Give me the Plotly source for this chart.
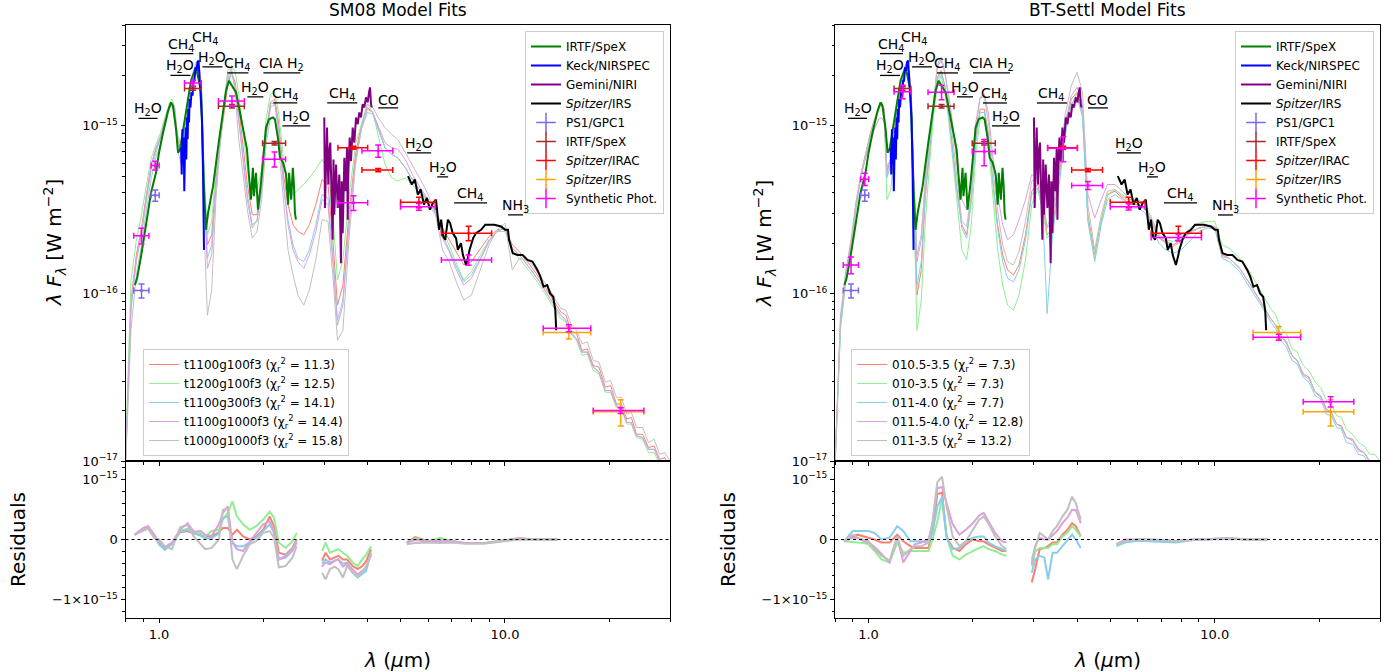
import numpy as np
import plotly.graph_objects as go

FONT = "DejaVu Sans"

# ---------------------------------------------------------------- model grid (micron)
model_wl = [0.80, 0.83, 0.86, 0.89, 0.92, 0.95, 0.98, 1.01, 1.04, 1.07,
            1.09, 1.11, 1.13, 1.16, 1.19, 1.22, 1.25, 1.28, 1.31, 1.33,
            1.35, 1.38, 1.42, 1.46, 1.50, 1.54, 1.58, 1.62, 1.66, 1.70,
            1.75, 1.80, 1.86, 1.92, 1.98, 2.04, 2.10, 2.16, 2.22, 2.29,
            2.36, 2.44, 2.52, 2.62, 2.72, 2.84, 2.96, 3.08, 3.18, 3.28,
            3.40, 3.55, 3.70, 3.85, 4.00, 4.15, 4.30, 4.50, 4.70, 4.90,
            5.15, 5.40, 5.70, 6.00, 6.30, 6.60, 6.90, 7.20, 7.60, 8.00,
            8.50, 9.00, 9.50, 10.0, 10.5, 11.0, 11.8, 12.6, 13.5, 14.5,
            15.0, 15.5, 16.1, 16.7, 17.3, 18.0, 18.7, 19.5, 20.2, 21.0,
            21.7, 22.5, 23.2, 24.0, 25.0, 26.0, 27.0, 28.0, 29.0, 30.0]

# SM08 model spectra, log10(lambda F_lambda / W m^-2)
sm08_t1100g100f3 = [
    -17.00, -16.04, -15.77, -15.61, -15.41, -15.23, -15.14, -15.07, -14.98, -14.89,
    -14.87, -14.92, -15.08, -15.14, -14.99, -14.83, -14.71, -14.64, -14.68, -14.84,
    -15.32, -15.71, -15.65, -15.32, -15.11, -14.92, -14.76, -14.68, -14.74, -14.89,
    -15.11, -15.35, -15.53, -15.53, -15.35, -15.04, -14.86, -14.84, -14.99, -15.29,
    -15.47, -15.59, -15.63, -15.65, -15.59, -15.47, -15.32, -15.35, -15.68, -16.07,
    -15.95, -15.50, -15.17, -14.99, -14.89, -14.92, -15.01, -15.13, -15.17, -15.19,
    -15.25, -15.32, -15.39, -15.45, -15.50, -15.61, -15.68, -15.75, -15.83, -15.81,
    -15.73, -15.66, -15.62, -15.61, -15.71, -15.75, -15.83, -15.91, -16.01, -16.11,
    -16.13, -16.22, -16.24, -16.34, -16.33, -16.43, -16.44, -16.56, -16.55, -16.66,
    -16.66, -16.75, -16.74, -16.84, -16.84, -16.92, -16.91, -16.99, -16.98, -17.04]
sm08_t1200g100f3 = [
    -16.96, -15.92, -15.68, -15.53, -15.35, -15.19, -15.11, -15.04, -14.95, -14.87,
    -14.84, -14.89, -15.05, -15.11, -14.98, -14.81, -14.70, -14.63, -14.67, -14.81,
    -15.26, -15.65, -15.57, -15.27, -15.08, -14.89, -14.73, -14.64, -14.68, -14.81,
    -15.02, -15.26, -15.41, -15.38, -15.26, -14.96, -14.81, -14.80, -14.93, -15.20,
    -15.35, -15.41, -15.38, -15.35, -15.31, -15.26, -15.20, -15.26, -15.53, -15.92,
    -15.80, -15.41, -15.11, -14.98, -14.87, -14.92, -15.05, -15.23, -15.31, -15.33,
    -15.31, -15.35, -15.41, -15.47, -15.51, -15.63, -15.71, -15.81, -15.92, -15.87,
    -15.77, -15.68, -15.63, -15.63, -15.74, -15.79, -15.87, -15.95, -16.05, -16.15,
    -16.17, -16.24, -16.28, -16.37, -16.36, -16.46, -16.48, -16.59, -16.59, -16.68,
    -16.69, -16.78, -16.78, -16.86, -16.87, -16.95, -16.95, -17.02, -17.02, -17.06]
sm08_t1100g300f3 = [
    -17.02, -16.10, -15.81, -15.65, -15.44, -15.26, -15.16, -15.08, -14.99, -14.90,
    -14.88, -14.93, -15.10, -15.16, -15.01, -14.84, -14.73, -14.65, -14.69, -14.87,
    -15.38, -15.79, -15.71, -15.35, -15.11, -14.89, -14.73, -14.68, -14.77, -14.95,
    -15.17, -15.41, -15.59, -15.57, -15.39, -15.07, -14.89, -14.87, -15.04, -15.35,
    -15.56, -15.71, -15.79, -15.81, -15.74, -15.59, -15.41, -15.43, -15.77, -16.16,
    -16.04, -15.56, -15.21, -15.02, -14.92, -14.93, -15.02, -15.13, -15.17, -15.19,
    -15.25, -15.32, -15.39, -15.47, -15.53, -15.65, -15.74, -15.83, -15.93, -15.89,
    -15.79, -15.68, -15.63, -15.61, -15.73, -15.77, -15.85, -15.93, -16.03, -16.13,
    -16.16, -16.23, -16.27, -16.35, -16.35, -16.44, -16.47, -16.58, -16.58, -16.67,
    -16.68, -16.77, -16.77, -16.85, -16.86, -16.93, -16.93, -17.00, -17.00, -17.05]
sm08_t1100g1000f3 = [
    -17.02, -16.07, -15.79, -15.63, -15.41, -15.23, -15.13, -15.06, -14.96, -14.88,
    -14.86, -14.89, -15.07, -15.11, -14.96, -14.80, -14.69, -14.62, -14.65, -14.84,
    -15.38, -15.85, -15.77, -15.37, -15.10, -14.87, -14.70, -14.67, -14.77, -14.96,
    -15.20, -15.44, -15.61, -15.56, -15.38, -15.04, -14.87, -14.86, -15.02, -15.35,
    -15.59, -15.74, -15.81, -15.85, -15.77, -15.63, -15.44, -15.47, -15.81, -16.19,
    -16.07, -15.57, -15.20, -15.01, -14.90, -14.92, -15.00, -15.10, -15.13, -15.14,
    -15.20, -15.29, -15.37, -15.44, -15.51, -15.67, -15.75, -15.85, -15.95, -15.91,
    -15.80, -15.69, -15.63, -15.61, -15.73, -15.77, -15.85, -15.93, -16.03, -16.13,
    -16.16, -16.24, -16.27, -16.35, -16.35, -16.44, -16.47, -16.58, -16.58, -16.67,
    -16.68, -16.77, -16.77, -16.85, -16.86, -16.93, -16.93, -17.00, -17.00, -17.05]
sm08_t1000g1000f3 = [
    -17.05, -16.22, -15.89, -15.71, -15.50, -15.31, -15.19, -15.11, -15.01, -14.90,
    -14.87, -14.93, -15.14, -15.23, -15.05, -14.86, -14.73, -14.64, -14.70, -14.93,
    -15.62, -16.13, -15.98, -15.44, -15.14, -14.87, -14.67, -14.65, -14.81, -15.08,
    -15.29, -15.50, -15.67, -15.63, -15.44, -15.11, -14.95, -14.96, -15.14, -15.47,
    -15.74, -15.89, -16.01, -16.07, -15.98, -15.80, -15.56, -15.57, -15.89, -16.28,
    -16.22, -15.65, -15.23, -15.01, -14.87, -14.89, -14.95, -15.01, -15.05, -15.08,
    -15.16, -15.23, -15.32, -15.41, -15.53, -15.74, -15.81, -15.92, -16.04, -16.01,
    -15.85, -15.71, -15.62, -15.58, -15.86, -15.79, -15.81, -15.89, -15.98, -16.09,
    -16.10, -16.18, -16.22, -16.30, -16.29, -16.40, -16.41, -16.53, -16.52, -16.62,
    -16.62, -16.72, -16.71, -16.80, -16.80, -16.89, -16.87, -16.96, -16.95, -17.00]

# BT-Settl model spectra, log10(lambda F_lambda / W m^-2)
bts_010p5_3p5 = [
    -17.02, -16.16, -15.89, -15.71, -15.47, -15.29, -15.17, -15.05, -14.96, -14.89,
    -14.86, -14.90, -15.27, -15.20, -15.02, -14.84, -14.71, -14.64, -14.68, -14.84,
    -15.35, -16.01, -15.86, -15.41, -15.16, -14.90, -14.71, -14.67, -14.76, -14.90,
    -15.14, -15.38, -15.59, -15.65, -15.44, -15.08, -14.90, -14.90, -15.05, -15.35,
    -15.59, -15.77, -15.86, -15.89, -15.83, -15.65, -15.39, -15.35, -15.47, -15.65,
    -15.61, -15.32, -15.02, -14.84, -14.80, -14.92, -15.53, -15.77, -15.56, -15.41,
    -15.39, -15.43, -15.47, -15.47, -15.50, -15.59, -15.67, -15.69, -15.71, -15.68,
    -15.63, -15.61, -15.60, -15.60, -15.77, -15.79, -15.85, -15.94, -16.04, -16.15,
    -16.19, -16.25, -16.29, -16.37, -16.40, -16.48, -16.50, -16.59, -16.61, -16.69,
    -16.71, -16.78, -16.79, -16.86, -16.87, -16.93, -16.95, -17.00, -17.00, -17.05]
bts_010_3p5 = [
    -17.05, -16.22, -15.92, -15.74, -15.50, -15.31, -15.19, -15.07, -14.98, -14.90,
    -14.87, -14.95, -15.44, -15.38, -15.08, -14.87, -14.74, -14.67, -14.70, -14.87,
    -15.44, -16.22, -16.04, -15.56, -15.23, -14.95, -14.76, -14.70, -14.80, -14.95,
    -15.20, -15.47, -15.74, -15.80, -15.59, -15.17, -14.96, -14.95, -15.11, -15.44,
    -15.74, -15.95, -16.07, -16.10, -16.01, -15.80, -15.47, -15.38, -15.50, -15.67,
    -15.63, -15.35, -15.05, -14.87, -14.81, -14.93, -15.56, -15.79, -15.57, -15.41,
    -15.38, -15.41, -15.44, -15.44, -15.47, -15.56, -15.65, -15.68, -15.69, -15.66,
    -15.61, -15.58, -15.57, -15.57, -15.71, -15.73, -15.79, -15.87, -15.98, -16.09,
    -16.13, -16.21, -16.24, -16.33, -16.35, -16.43, -16.46, -16.53, -16.56, -16.64,
    -16.66, -16.73, -16.74, -16.81, -16.84, -16.89, -16.91, -16.96, -16.96, -17.00]
bts_011_4p0 = [
    -17.04, -16.19, -15.91, -15.73, -15.49, -15.30, -15.18, -15.06, -14.97, -14.90,
    -14.87, -14.92, -15.31, -15.23, -15.04, -14.85, -14.72, -14.65, -14.68, -14.86,
    -15.37, -15.95, -15.81, -15.39, -15.14, -14.90, -14.73, -14.68, -14.76, -14.92,
    -15.16, -15.39, -15.61, -15.67, -15.45, -15.10, -14.92, -14.92, -15.07, -15.37,
    -15.62, -15.81, -15.91, -15.93, -15.86, -15.68, -15.41, -15.37, -15.50, -16.12,
    -15.65, -15.35, -15.05, -14.87, -14.83, -14.95, -15.57, -15.81, -15.59, -15.44,
    -15.41, -15.44, -15.49, -15.49, -15.52, -15.62, -15.70, -15.74, -15.76, -15.74,
    -15.68, -15.63, -15.61, -15.61, -15.79, -15.81, -15.87, -15.96, -16.06, -16.17,
    -16.21, -16.28, -16.32, -16.40, -16.42, -16.50, -16.53, -16.61, -16.63, -16.72,
    -16.73, -16.80, -16.81, -16.89, -16.90, -16.96, -16.97, -17.03, -17.03, -17.06]
bts_011p5_4p0 = [
    -17.00, -16.13, -15.86, -15.68, -15.45, -15.30, -15.19, -15.10, -15.02, -14.96,
    -14.95, -14.98, -15.25, -15.19, -15.01, -14.83, -14.70, -14.63, -14.67, -14.83,
    -15.29, -15.81, -15.68, -15.32, -15.08, -14.84, -14.65, -14.61, -14.68, -14.80,
    -14.99, -15.23, -15.44, -15.50, -15.32, -14.98, -14.83, -14.81, -14.93, -15.20,
    -15.41, -15.59, -15.68, -15.65, -15.56, -15.44, -15.29, -15.32, -15.44, -15.61,
    -15.57, -15.27, -14.98, -14.82, -14.77, -14.87, -15.41, -15.55, -15.44, -15.35,
    -15.35, -15.39, -15.44, -15.45, -15.49, -15.57, -15.66, -15.69, -15.71, -15.68,
    -15.63, -15.61, -15.60, -15.60, -15.77, -15.79, -15.85, -15.94, -16.04, -16.15,
    -16.19, -16.25, -16.29, -16.37, -16.40, -16.48, -16.50, -16.59, -16.61, -16.69,
    -16.71, -16.78, -16.79, -16.86, -16.87, -16.93, -16.95, -17.00, -17.00, -17.05]
bts_011_3p5 = [
    -17.03, -16.17, -15.90, -15.72, -15.48, -15.29, -15.17, -15.06, -14.97, -14.89,
    -14.87, -14.92, -15.29, -15.21, -15.02, -14.84, -14.71, -14.64, -14.67, -14.83,
    -15.29, -15.77, -15.65, -15.31, -15.08, -14.84, -14.64, -14.59, -14.67, -14.84,
    -15.08, -15.33, -15.57, -15.60, -15.41, -15.04, -14.83, -14.83, -14.98, -15.27,
    -15.51, -15.71, -15.81, -15.83, -15.75, -15.57, -15.33, -15.31, -15.43, -15.60,
    -15.53, -15.23, -14.93, -14.76, -14.68, -14.80, -15.47, -15.74, -15.53, -15.39,
    -15.38, -15.42, -15.45, -15.46, -15.50, -15.59, -15.67, -15.70, -15.72, -15.69,
    -15.64, -15.61, -15.60, -15.60, -15.78, -15.79, -15.85, -15.94, -16.04, -16.15,
    -16.19, -16.25, -16.30, -16.37, -16.40, -16.49, -16.51, -16.59, -16.62, -16.70,
    -16.71, -16.78, -16.80, -16.86, -16.88, -16.94, -16.95, -17.01, -17.01, -17.06]

sm08_names = ["t1100g100f3", "t1200g100f3", "t1100g300f3", "t1100g1000f3", "t1000g1000f3"]
sm08_chi2 = [11.3, 12.5, 14.1, 14.4, 15.8]
bts_names = ["010.5-3.5", "010-3.5", "011-4.0", "011.5-4.0", "011-3.5"]
bts_chi2 = [7.3, 7.3, 7.7, 12.8, 13.2]
model_colors = ["#FA8072", "#90EE90", "#87CEEB", "#DDA0DD", "#C0C0C0"]

# ---------------------------------------------------------------- observed spectra
spex_wl = [0.852, 0.864, 0.887, 0.917, 0.948, 0.980, 1.000, 1.027, 1.062, 1.083,
           1.097, 1.120, 1.135, 1.150, 1.197, 1.237, 1.279, 1.322, 1.349, 1.367,
           1.386, 1.433, 1.481, 1.531, 1.562, 1.593, 1.636, 1.669, 1.703, 1.749,
           1.796, 1.820, 1.843, 1.868, 1.880, 1.906, 1.932, 1.971, 1.997, 2.038,
           2.079, 2.135, 2.163, 2.207, 2.237, 2.283, 2.329, 2.361, 2.377, 2.410,
           2.437, 2.456, 2.471, 2.488]
spex_logf = [-15.95, -15.91, -15.78, -15.59, -15.40, -15.28, -15.16, -15.04, -14.91, -14.86,
             -14.88, -15.02, -15.16, -15.14, -14.91, -14.73, -14.65, -14.79, -15.38, -15.62,
             -15.52, -15.36, -15.13, -14.92, -14.79, -14.73, -14.77, -14.80, -14.89, -15.01,
             -15.14, -15.30, -15.44, -15.25, -15.42, -15.28, -15.50, -15.34, -15.20, -15.01,
             -14.96, -14.95, -14.96, -15.07, -15.19, -15.22, -15.29, -15.47, -15.28, -15.44,
             -15.25, -15.36, -15.52, -15.56]

nirspec_wl = [1.158, 1.163, 1.168, 1.173, 1.179, 1.183, 1.189, 1.195, 1.199, 1.205,
              1.210, 1.215, 1.221, 1.226, 1.233, 1.241, 1.250, 1.258, 1.266, 1.275,
              1.284, 1.292, 1.301, 1.308, 1.314, 1.322, 1.331, 1.340, 1.345, 1.349]
nirspec_logf = [-15.13, -15.29, -15.02, -15.23, -15.07, -15.39, -15.14, -15.01, -15.20, -14.95,
                -15.08, -14.90, -14.98, -14.84, -14.89, -14.80, -14.82, -14.73, -14.73, -14.65,
                -14.67, -14.62, -14.61, -14.68, -14.73, -14.84, -14.96, -15.26, -15.56, -15.74]

niri_wl = [3.004, 3.018, 3.059, 3.086, 3.110, 3.127, 3.156, 3.177, 3.194, 3.211,
           3.248, 3.285, 3.320, 3.342, 3.357, 3.373, 3.396, 3.414, 3.433, 3.465,
           3.495, 3.511, 3.525, 3.558, 3.589, 3.630, 3.669, 3.711, 3.753, 3.793,
           3.836, 3.879, 3.921, 3.966, 4.011, 4.046, 4.073, 4.101, 4.120]
niri_logf = [-14.95, -15.49, -15.01, -15.35, -15.14, -15.10, -15.45, -15.68, -15.20, -15.53,
             -15.23, -15.49, -15.29, -15.55, -15.82, -15.33, -15.64, -15.44, -15.19, -15.39,
             -15.13, -15.56, -15.29, -15.07, -15.21, -15.01, -15.10, -14.95, -14.99, -14.92,
             -14.95, -14.87, -14.89, -14.83, -14.86, -14.80, -14.77, -14.87, -14.89]

irs_wl = [5.245, 5.38, 5.49, 5.60, 5.71, 5.83, 5.95, 6.07, 6.19, 6.32,
          6.45, 6.54, 6.63, 6.72, 6.84, 6.94, 7.06, 7.22, 7.31, 7.46,
          7.56, 7.72, 7.83, 7.90, 8.09, 8.25, 8.53, 8.77, 8.94, 9.31,
          9.75, 10.0, 10.2, 10.28, 10.53, 10.87, 11.24, 11.62, 12.01, 12.41,
          12.66, 12.93, 13.25, 13.51, 13.79, 13.98, 14.07]
irs_logf = [-15.30, -15.35, -15.32, -15.41, -15.38, -15.47, -15.43, -15.50, -15.46, -15.44,
            -15.62, -15.56, -15.66, -15.68, -15.56, -15.58, -15.64, -15.67, -15.74, -15.70,
            -15.77, -15.83, -15.78, -15.74, -15.67, -15.64, -15.62, -15.59, -15.59, -15.59,
            -15.60, -15.62, -15.62, -15.68, -15.76, -15.77, -15.77, -15.80, -15.81, -15.86,
            -15.90, -15.96, -15.95, -16.00, -16.02, -16.10, -16.22]

# ---------------------------------------------------------------- photometry (W m^-2)
ps1_wl = [0.89, 0.975]
ps1_xerr = [0.045, 0.026]
ps1_f = [1.04e-16, 3.85e-16]
ps1_ferr = [0.10e-16, 0.30e-16]

spexphot_wl = [1.255, 1.625, 2.157]
spexphot_xerr = [0.07, 0.14, 0.165]
spexphot_f = [1.67e-15, 1.31e-15, 7.88e-16]
spexphot_ferr = [0.04e-15, 0.03e-15, 0.20e-16]

irac_wl = [3.65, 4.30, 5.64, 7.85]
irac_xerr = [0.36, 0.44, 0.65, 1.30]
irac_f = [7.40e-16, 5.45e-16, 3.50e-16, 2.29e-16]
irac_ferr = [0.15e-16, 0.12e-16, 0.25e-16, 0.23e-16]

irsphot_wl = [15.3, 21.6]
irsphot_xerr = [2.4, 3.6]
irsphot_f = [5.85e-17, 1.97e-17]
irsphot_ferr = [0.50e-17, 0.35e-17]

synth_wl = [0.89, 0.975, 1.255, 1.625, 2.157, 3.65, 4.30, 5.64, 7.85, 15.3, 21.6]
synth_xerr = [0.045, 0.026, 0.07, 0.14, 0.165, 0.36, 0.44, 0.65, 1.30, 2.4, 3.6]
synth_sm08_f = [2.21e-16, 5.80e-16, 1.80e-15, 1.41e-15, 6.33e-16, 3.48e-16,
                7.10e-16, 3.29e-16, 1.585e-16, 6.2e-17, 2.0e-17]
synth_sm08_ferr = [0.24e-16, 0.35e-16, 0.07e-15, 0.10e-15, 0.65e-16, 0.35e-16,
                   0.60e-16, 0.15e-16, 0.11e-16, 0.30e-17, 0.08e-17]
synth_bts_f = [1.48e-16, 4.81e-16, 1.60e-15, 1.59e-15, 7.03e-16, 7.36e-16,
               4.41e-16, 3.29e-16, 2.16e-16, 5.48e-17, 2.26e-17]
synth_bts_ferr = [0.17e-16, 0.40e-16, 0.15e-15, 0.16e-15, 1.25e-16, 1.25e-16,
                  0.24e-16, 0.14e-16, 0.09e-16, 0.22e-17, 0.16e-17]

# ---------------------------------------------------------------- residuals (1e-15 W m^-2)
res_wl = [0.85, 0.90, 0.93, 0.97, 1.00, 1.04, 1.09, 1.15, 1.21, 1.26,
          1.32, 1.36, 1.42, 1.49, 1.53, 1.58, 1.63, 1.68, 1.75, 1.83,
          1.91, 2.00, 2.09, 2.15, 2.22, 2.32, 2.43, 2.50, None,
          2.96, 3.03, 3.12, 3.22, 3.30, 3.40, 3.50, 3.63, 3.75, 3.87,
          3.97, 4.10, None,
          5.2, 5.5, 6.0, 6.5, 7.0, 7.7, 8.7, 9.8, 11.0, 12.4, 14.2]

res_sm08_t1100g100f3 = [
    0.08, 0.17, 0.20, 0.06, -0.05, -0.14, -0.07, 0.12, 0.14, 0.10,
    0.08, 0.04, 0.05, 0.12, 0.19, 0.19, 0.08, 0.16, 0.05, 0.00,
    0.05, 0.16, 0.38, 0.22, -0.22, -0.25, -0.14, 0.00, None,
    -0.35, -0.22, -0.33, -0.30, -0.27, -0.33, -0.33, -0.44, -0.49, -0.44,
    -0.36, -0.16, None,
    -0.05, 0.04, -0.03, -0.02, -0.03, -0.06, -0.06, -0.02, 0.02, 0.00, 0.00]
res_sm08_t1200g100f3 = [
    0.08, 0.19, 0.22, 0.08, -0.08, -0.16, -0.08, 0.14, 0.18, 0.12,
    0.10, 0.05, 0.14, 0.16, 0.33, 0.44, 0.63, 0.38, 0.25, 0.16,
    0.22, 0.33, 0.46, 0.36, -0.05, -0.14, -0.03, 0.11, None,
    -0.19, -0.05, -0.22, -0.19, -0.16, -0.22, -0.27, -0.38, -0.44, -0.33,
    -0.25, -0.11, None,
    -0.05, 0.02, -0.03, 0.03, -0.03, -0.06, -0.06, -0.02, 0.01, 0.00, 0.00]
res_sm08_t1100g300f3 = [
    0.08, 0.16, 0.20, 0.05, -0.08, -0.17, -0.06, 0.13, 0.16, 0.10,
    0.06, 0.02, 0.02, 0.10, 0.36, 0.38, -0.05, -0.11, -0.11, -0.05,
    0.03, 0.14, 0.25, 0.11, -0.33, -0.27, -0.16, -0.03, None,
    -0.40, -0.33, -0.38, -0.35, -0.33, -0.40, -0.38, -0.55, -0.63, -0.57,
    -0.52, -0.22, None,
    -0.05, 0.00, -0.03, -0.03, -0.03, -0.06, -0.06, -0.02, 0.01, 0.00, 0.00]
res_sm08_t1100g1000f3 = [
    0.08, 0.19, 0.22, 0.08, -0.04, -0.12, -0.05, 0.16, 0.27, 0.13,
    0.14, 0.08, 0.06, 0.25, 0.44, 0.55, -0.05, -0.16, -0.19, -0.03,
    0.11, 0.25, 0.30, 0.14, -0.33, -0.30, -0.19, -0.05, None,
    -0.45, -0.38, -0.41, -0.35, -0.33, -0.45, -0.40, -0.49, -0.58, -0.52,
    -0.46, -0.25, None,
    -0.05, -0.01, -0.03, -0.02, -0.03, -0.06, -0.06, -0.02, 0.01, 0.00, 0.00]
res_sm08_t1000g1000f3 = [
    0.08, 0.14, 0.18, 0.02, 0.00, -0.11, -0.16, 0.20, 0.24, 0.05,
    -0.08, -0.16, -0.14, 0.00, 0.49, 0.52, -0.33, -0.49, -0.27, -0.08,
    -0.03, 0.11, 0.14, 0.03, -0.46, -0.44, -0.30, -0.11, None,
    -0.55, -0.66, -0.49, -0.45, -0.49, -0.63, -0.44, -0.55, -0.60, -0.55,
    -0.44, -0.27, None,
    -0.08, -0.06, -0.05, -0.06, -0.05, -0.07, -0.07, -0.03, 0.00, 0.00, 0.00]

res_bts_010p5_3p5 = [
    -0.03, 0.05, 0.08, 0.05, 0.03, 0.00, -0.05, -0.05, 0.08, -0.03,
    -0.11, -0.14, -0.14, -0.14, 0.16, 0.75, 0.78, 0.05, -0.14, -0.19,
    -0.08, 0.00, -0.03, -0.03, -0.08, -0.14, -0.19, -0.19, None,
    -0.71, -0.49, -0.16, -0.14, -0.11, -0.05, -0.05, 0.08, 0.16, 0.27,
    0.22, 0.05, None,
    -0.08, -0.03, 0.00, 0.00, -0.01, -0.03, 0.00, 0.01, 0.02, 0.00, 0.00]
res_bts_010_3p5 = [
    -0.03, -0.05, -0.05, -0.06, -0.08, -0.19, -0.33, -0.38, -0.05, -0.22,
    -0.19, -0.19, -0.19, -0.19, 0.00, 0.30, 0.68, 0.05, -0.27, -0.33,
    -0.25, -0.19, -0.14, -0.11, -0.16, -0.19, -0.25, -0.27, None,
    -0.44, -0.20, -0.14, -0.14, -0.14, -0.08, -0.08, 0.05, 0.11, 0.22,
    0.16, 0.05, None,
    -0.08, -0.03, 0.00, 0.00, -0.01, -0.03, 0.00, 0.01, 0.02, 0.00, 0.00]
res_bts_011_4p0 = [
    -0.03, 0.14, 0.14, 0.14, 0.14, 0.11, 0.00, 0.03, 0.22, 0.14,
    -0.03, -0.03, -0.03, -0.05, 0.11, 0.55, 0.70, 0.02, -0.16, -0.14,
    -0.03, 0.03, 0.05, 0.05, -0.05, -0.11, -0.16, -0.19, None,
    -0.55, -0.33, -0.27, -0.30, -0.66, -0.22, -0.22, -0.11, -0.03, 0.08,
    0.00, -0.14, None,
    -0.11, -0.05, -0.02, -0.03, -0.03, -0.05, -0.01, 0.00, 0.01, 0.00, 0.00]
res_bts_011p5_4p0 = [
    -0.03, 0.03, 0.02, -0.03, -0.05, -0.12, -0.24, -0.38, 0.05, -0.38,
    -0.19, -0.08, -0.05, 0.00, 0.25, 0.85, 0.87, 0.60, 0.25, 0.08,
    0.16, 0.27, 0.40, 0.44, 0.30, 0.11, -0.03, -0.05, None,
    -0.40, -0.10, 0.03, 0.00, 0.00, 0.08, 0.14, 0.27, 0.36, 0.49,
    0.49, 0.27, None,
    -0.08, 0.00, 0.00, 0.00, -0.01, -0.03, 0.00, 0.01, 0.02, 0.00, 0.00]
res_bts_011_3p5 = [
    -0.03, 0.08, 0.03, -0.01, -0.03, -0.16, -0.27, -0.35, 0.05, -0.27,
    -0.16, -0.11, -0.11, -0.05, 0.30, 0.95, 1.04, 0.55, 0.05, -0.11,
    -0.03, 0.16, 0.33, 0.38, 0.27, 0.05, -0.11, -0.16, None,
    -0.33, -0.14, 0.11, 0.05, 0.00, 0.14, 0.22, 0.38, 0.49, 0.71,
    0.60, 0.33, None,
    -0.08, -0.03, 0.00, 0.00, -0.01, -0.03, 0.00, 0.01, 0.02, 0.00, 0.00]

# ---------------------------------------------------------------- absorption band labels
band_text = ["H<sub>2</sub>O", "H<sub>2</sub>O", "CH<sub>4</sub>", "CH<sub>4</sub>",
             "H<sub>2</sub>O", "CH<sub>4</sub>", "CIA H<sub>2</sub>", "H<sub>2</sub>O",
             "CH<sub>4</sub>", "H<sub>2</sub>O", "CH<sub>4</sub>", "CO",
             "H<sub>2</sub>O", "H<sub>2</sub>O", "CH<sub>4</sub>", "NH<sub>3</sub>"]
band_lo = [0.872, 1.079, 1.079, 1.36, 1.335, 1.576, 2.003, 1.80,
           2.14, 2.273, 3.064, 4.303, 5.217, 6.37, 7.13, 10.21]
band_hi = [0.99, 1.233, 1.257, 1.36, 1.525, 1.813, 2.561, 2.003,
           2.51, 2.737, 3.741, 4.913, 6.118, 6.85, 8.88, 11.28]
band_y = [1.11e-15, 2.0e-15, 2.7e-15, 2.96e-15, 2.25e-15, 2.07e-15, 2.07e-15, 1.49e-15,
          1.37e-15, 1.0e-15, 1.37e-15, 1.28e-15, 6.9e-16, 4.96e-16, 3.47e-16, 2.94e-16]

# ---------------------------------------------------------------- figure
W, H = 1400, 672
X_DOMS = [[125.5 / W, 670 / W], [835 / W, 1380 / W]]
MAIN_DOM = [1 - 461 / H, 1 - 25 / H]
RES_DOM = [1 - 618 / H, 1 - 461 / H]
X_RANGE = [np.log10(0.8), np.log10(30.0)]

fig = go.Figure()

panels = [
    dict(xa="x", ya="y", xr="x3", yr="y3", leg_obs="legend", leg_mod="legend2",
         title="SM08 Model Fits", names=sm08_names, chi2=sm08_chi2,
         models=[sm08_t1100g100f3, sm08_t1200g100f3, sm08_t1100g300f3,
                 sm08_t1100g1000f3, sm08_t1000g1000f3],
         resid=[res_sm08_t1100g100f3, res_sm08_t1200g100f3, res_sm08_t1100g300f3,
                res_sm08_t1100g1000f3, res_sm08_t1000g1000f3],
         synth=synth_sm08_f, synth_err=synth_sm08_ferr),
    dict(xa="x2", ya="y2", xr="x4", yr="y4", leg_obs="legend3", leg_mod="legend4",
         title="BT-Settl Model Fits", names=bts_names, chi2=bts_chi2,
         models=[bts_010p5_3p5, bts_010_3p5, bts_011_4p0, bts_011p5_4p0, bts_011_3p5],
         resid=[res_bts_010p5_3p5, res_bts_010_3p5, res_bts_011_4p0,
                res_bts_011p5_4p0, res_bts_011_3p5],
         synth=synth_bts_f, synth_err=synth_bts_ferr),
]

obs_spectra = [
    ("IRTF/SpeX", spex_wl, spex_logf, "#008000"),
    ("Keck/NIRSPEC", nirspec_wl, nirspec_logf, "#0000FF"),
    ("Gemini/NIRI", niri_wl, niri_logf, "#800080"),
    ("<i>Spitzer</i>/IRS", irs_wl, irs_logf, "#000000"),
]

for p in panels:
    # model spectra
    for name, chi, arr, col in zip(p["names"], p["chi2"], p["models"], model_colors):
        fig.add_trace(go.Scatter(
            x=model_wl, y=10 ** np.array(arr), mode="lines",
            line=dict(color=col, width=1),
            name=f"{name} (χ<sub>r</sub><sup>2</sup> = {chi})",
            legend=p["leg_mod"], xaxis=p["xa"], yaxis=p["ya"], hoverinfo="skip"))

    # observed spectra
    for name, wl, lf, col in obs_spectra:
        fig.add_trace(go.Scatter(
            x=wl, y=10 ** np.array(lf), mode="lines",
            line=dict(color=col, width=2),
            name=name, legend=p["leg_obs"], xaxis=p["xa"], yaxis=p["ya"],
            hoverinfo="skip"))

    # photometry
    phot = [
        ("PS1/GPC1", ps1_wl, ps1_xerr, ps1_f, ps1_ferr, "#7B68EE"),
        ("IRTF/SpeX", spexphot_wl, spexphot_xerr, spexphot_f, spexphot_ferr, "#A52A2A"),
        ("<i>Spitzer</i>/IRAC", irac_wl, irac_xerr, irac_f, irac_ferr, "#FF0000"),
        ("<i>Spitzer</i>/IRS", irsphot_wl, irsphot_xerr, irsphot_f, irsphot_ferr, "#FFA500"),
        ("Synthetic Phot.", synth_wl, synth_xerr, p["synth"], p["synth_err"], "#FF00FF"),
    ]
    for name, wl, xe, f, fe, col in phot:
        fig.add_trace(go.Scatter(
            x=wl, y=f, mode="markers",
            marker=dict(color=col, size=3),
            error_x=dict(type="data", array=xe, color=col, thickness=1.5, width=3),
            error_y=dict(type="data", array=fe, color=col, thickness=1.5, width=3),
            showlegend=False, xaxis=p["xa"], yaxis=p["ya"], hoverinfo="skip"))
    for name, wl, xe, f, fe, col in phot:
        fig.add_trace(go.Scatter(
            x=[None], y=[None], mode="markers", name=name,
            marker=dict(symbol="cross-thin", size=14, color=col,
                        line=dict(width=1.5, color=col)),
            legend=p["leg_obs"], xaxis=p["xa"], yaxis=p["ya"]))

    # band underlines
    bx, by = [], []
    for lo, hi, yv in zip(band_lo, band_hi, band_y):
        if hi > lo:
            bx += [lo, hi, None]
            by += [yv, yv, None]
    fig.add_trace(go.Scatter(x=bx, y=by, mode="lines", line=dict(color="black", width=1.3),
                             showlegend=False, xaxis=p["xa"], yaxis=p["ya"], hoverinfo="skip"))
    for txt, lo, hi, yv in zip(band_text, band_lo, band_hi, band_y):
        fig.add_annotation(x=0.5 * (np.log10(lo) + np.log10(hi)), y=np.log10(yv),
                           xref=p["xa"], yref=p["ya"], text=txt, showarrow=False,
                           xanchor="center", yanchor="bottom", yshift=-2,
                           font=dict(family=FONT, size=14, color="black"))

    # residuals
    for arr, col in zip(p["resid"], model_colors):
        fig.add_trace(go.Scatter(
            x=res_wl, y=[None if v is None else v * 1e-15 for v in arr], mode="lines",
            line=dict(color=col, width=2), showlegend=False,
            xaxis=p["xr"], yaxis=p["yr"], hoverinfo="skip"))
    fig.add_shape(type="line", xref=f"{p['xr']} domain", yref=p["yr"],
                  x0=0, x1=1, y0=0, y1=0, line=dict(color="black", width=1, dash="dot"))

# ---------------------------------------------------------------- axes
x_minor = [0.8, 0.9, 2, 3, 4, 5, 6, 7, 8, 9, 20, 30]
y_minor = [m * 10.0 ** e for e in (-17, -16) for m in range(2, 10)] + [2e-15, 3e-15, 4e-15]

common = dict(showline=True, mirror=True, linecolor="black", linewidth=1,
              ticks="outside", ticklen=4, tickwidth=1, tickcolor="black",
              showgrid=False, zeroline=False, automargin=False,
              tickfont=dict(family=FONT, size=13, color="black"))

layout_axes = {}
for i, dom in enumerate(X_DOMS):
    xm = "xaxis" if i == 0 else "xaxis2"
    ym = "yaxis" if i == 0 else "yaxis2"
    xr = "xaxis3" if i == 0 else "xaxis4"
    yr = "yaxis3" if i == 0 else "yaxis4"
    ya_m = "y" if i == 0 else "y2"
    ya_r = "y3" if i == 0 else "y4"
    xa_m = "x" if i == 0 else "x2"
    xa_r = "x3" if i == 0 else "x4"
    layout_axes[xm] = dict(common, type="log", range=X_RANGE, domain=dom, anchor=ya_m,
                           tickvals=[1, 10], showticklabels=False,
                           minor=dict(tickvals=x_minor, ticks="outside", ticklen=2.5,
                                      tickcolor="black"))
    layout_axes[ym] = dict(common, type="log", range=[-17, np.log10(4e-15)],
                           domain=MAIN_DOM, anchor=xa_m,
                           tickvals=[1e-17, 1e-16, 1e-15],
                           ticktext=["10<sup>−17</sup>", "10<sup>−16</sup>", "10<sup>−15</sup>"],
                           minor=dict(tickvals=y_minor, ticks="outside", ticklen=2.5,
                                      tickcolor="black"))
    layout_axes[xr] = dict(common, type="log", range=X_RANGE, domain=dom, anchor=ya_r,
                           tickvals=[1, 10], ticktext=["1.0", "10.0"],
                           minor=dict(tickvals=x_minor, ticks="outside", ticklen=2.5,
                                      tickcolor="black"))
    layout_axes[yr] = dict(common, range=[-1.3e-15, 1.3e-15], domain=RES_DOM, anchor=xa_r,
                           tickvals=[-1e-15, 0, 1e-15],
                           ticktext=["−1×10<sup>−15</sup>", "0", "10<sup>−15</sup>"],
                           minor=dict(tickvals=[-1.2e-15, -0.8e-15, -0.6e-15, -0.4e-15,
                                                -0.2e-15, 0.2e-15, 0.4e-15, 0.6e-15,
                                                0.8e-15, 1.2e-15],
                                      ticks="outside", ticklen=2.5, tickcolor="black"))

legend_style = dict(bgcolor="rgba(255,255,255,0.85)", bordercolor="#cccccc", borderwidth=1,
                    font=dict(family=FONT, size=12, color="black"), tracegroupgap=0)

fig.update_layout(
    width=W, height=H, autosize=False, margin=dict(l=0, r=0, t=0, b=0, pad=0, autoexpand=False),
    paper_bgcolor="white", plot_bgcolor="white",
    font=dict(family=FONT, color="black"),
    legend=dict(legend_style, x=664 / W, xanchor="right", y=1 - 31 / H, yanchor="top"),
    legend2=dict(legend_style, x=143 / W, xanchor="left", y=1 - 456 / H, yanchor="bottom"),
    legend3=dict(legend_style, x=1374 / W, xanchor="right", y=1 - 31 / H, yanchor="top"),
    legend4=dict(legend_style, x=851 / W, xanchor="left", y=1 - 456 / H, yanchor="bottom"),
    **layout_axes,
)

# titles and axis labels
for i, p in enumerate(panels):
    dom = X_DOMS[i]
    xc = 0.5 * (dom[0] + dom[1])
    fig.add_annotation(x=xc, y=MAIN_DOM[1], xref="paper", yref="paper", text=p["title"],
                       showarrow=False, xanchor="center", yanchor="bottom", yshift=3,
                       font=dict(family=FONT, size=17, color="black"))
    fig.add_annotation(x=xc, y=1 - 660 / H, xref="paper", yref="paper",
                       text="<i>λ</i> (<i>μ</i>m)", showarrow=False,
                       xanchor="center", yanchor="middle",
                       font=dict(family=FONT, size=20, color="black"))
    x_off = 0 if i == 0 else 710
    fig.add_annotation(x=(55 + x_off) / W, y=1 - 243 / H, xref="paper", yref="paper",
                       text="<i>λ F<sub>λ</sub></i> [W m<sup>−2</sup>]", textangle=-90,
                       showarrow=False, xanchor="center", yanchor="middle",
                       font=dict(family=FONT, size=20, color="black"))
    fig.add_annotation(x=(18 + x_off) / W, y=1 - 540 / H, xref="paper", yref="paper",
                       text="Residuals", textangle=-90,
                       showarrow=False, xanchor="center", yanchor="middle",
                       font=dict(family=FONT, size=20, color="black"))

fig.write_html("out.html")
